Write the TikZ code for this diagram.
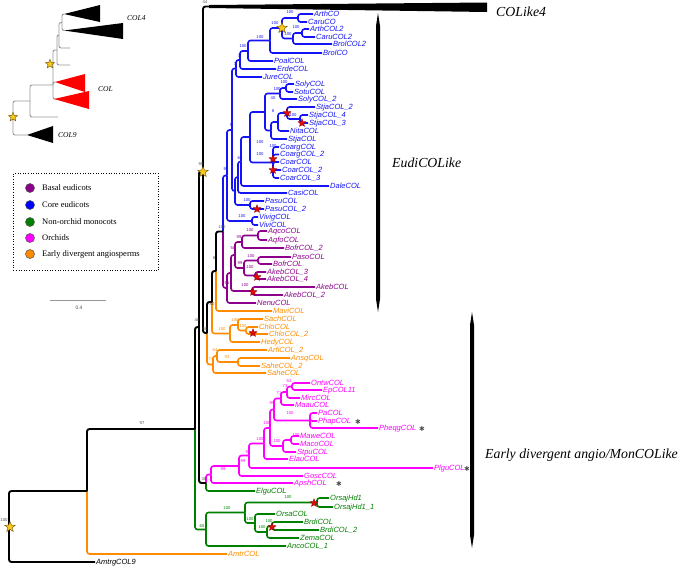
\documentclass[tikz,border=0pt]{standalone}
\usepackage{fontspec}
\setmainfont{Liberation Serif}
\newfontfamily\lsans{Liberation Sans}
\newfontfamily\dvs{DejaVu Sans}
\usetikzlibrary{shapes.geometric}
\definecolor{cB}{RGB}{20,20,245}
\definecolor{cP}{RGB}{140,0,140}
\definecolor{cO}{RGB}{255,140,0}
\definecolor{cM}{RGB}{255,0,255}
\definecolor{cG}{RGB}{0,128,0}
\definecolor{cKt}{RGB}{80,80,80}
\definecolor{gold}{RGB}{248,200,30}
\definecolor{goldd}{RGB}{110,80,0}
\definecolor{rstarc}{RGB}{230,10,10}
\definecolor{rstard}{RGB}{120,0,0}
\definecolor{insg}{RGB}{150,150,150}
\newcommand\lfn[5]{\node[lf,text=#5] (#1) at (#2,#3) {#4};}
\newcommand\ed[3][black]{\draw[br,draw=#1] (#2) |- (#3);}
\newcommand\bsl[5]{\node[bs,text=#4] (#1) at (#2,#3) {#5};}
\newcommand\gst[4]{\node[gstar,minimum size=#4] (#1) at (#2,#3) {};}
\newcommand\rst[3]{\node[rstar] (#1) at (#2,#3) {};}
\newcommand\astx[3]{\node[astk] (#1) at (#2,#3) {∗};}
\begin{document}
\begin{tikzpicture}[x=1pt,y=-1pt,
  lf/.style={anchor=west, inner sep=1pt, font=\lsans\itshape\fontsize{7.5}{8}\selectfont, text height=5.4pt, text depth=1.2pt},
  br/.style={line width=1.6pt, rounded corners=2.5pt},
  bs/.style={font=\lsans\fontsize{4.2}{4.5}\selectfont, inner sep=0pt},
  gstar/.style={star, star points=5, star point ratio=2.3, inner sep=0pt, fill=gold, draw=goldd, line width=0.4pt},
  rstar/.style={star, star points=5, star point ratio=2.3, inner sep=0pt, minimum size=8.5pt, fill=rstarc, draw=rstard, line width=0.3pt},
  astk/.style={inner sep=0pt, text=black!75, font=\dvs\bfseries\fontsize{8}{8}\selectfont},
  ins/.style={draw=insg, line width=0.9pt, rounded corners=2pt},
  big/.style={anchor=west, inner sep=0pt, font=\itshape\fontsize{13.8}{15}\selectfont},
  inl/.style={anchor=west, inner sep=0pt, font=\itshape\fontsize{7.5}{8}\selectfont},
  lgc/.style={circle, minimum size=9pt, inner sep=0pt, draw=black!70, line width=0.5pt},
  lgt/.style={anchor=west, inner sep=0pt, font=\fontsize{8.5}{10}\selectfont}
]
\useasboundingbox (0,0) rectangle (685,566);

% ---------------- leaves ----------------
\lfn{ArthCO}{313}{14}{ArthCO}{cB}
\lfn{CaruCO}{307}{22}{CaruCO}{cB}
\lfn{ArthCOLii}{309}{29}{ArthCOL2}{cB}
\lfn{CaruCOLii}{315}{37}{CaruCOL2}{cB}
\lfn{BrolCOLii}{332}{44}{BrolCOL2}{cB}
\lfn{BrolCO}{322}{53}{BrolCO}{cB}
\lfn{PoalCOL}{273}{61}{PoalCOL}{cB}
\lfn{ErdeCOL}{276}{69}{ErdeCOL}{cB}
\lfn{JureCOL}{262}{77}{JureCOL}{cB}
\lfn{SolyCOL}{294}{84}{SolyCOL}{cB}
\lfn{SotuCOL}{293}{92}{SotuCOL}{cB}
\lfn{SolyCOLb}{297}{99}{SolyCOL\_2}{cB}
\lfn{StjaCOLb}{315}{107}{StjaCOL\_2}{cB}
\lfn{StjaCOLd}{308}{115}{StjaCOL\_4}{cB}
\lfn{StjaCOLc}{308}{123}{StjaCOL\_3}{cB}
\lfn{NitaCOL}{289}{131}{NitaCOL}{cB}
\lfn{StjaCOL}{287}{139}{StjaCOL}{cB}
\lfn{CoargCOL}{279}{147}{CoargCOL}{cB}
\lfn{CoargCOLb}{279}{154.5}{CoargCOL\_2}{cB}
\lfn{CoarCOL}{279}{162}{CoarCOL}{cB}
\lfn{CoarCOLb}{281}{170}{CoarCOL\_2}{cB}
\lfn{CoarCOLc}{279}{178}{CoarCOL\_3}{cB}
\lfn{DaleCOL}{329}{186}{DaleCOL}{cB}
\lfn{CasiCOL}{287}{193}{CasiCOL}{cB}
\lfn{PasuCOL}{264}{201}{PasuCOL}{cB}
\lfn{PasuCOLb}{264}{209}{PasuCOL\_2}{cB}
\lfn{VivigCOL}{258}{217}{VivigCOL}{cB}
\lfn{ViviCOL}{258}{225}{ViviCOL}{cB}

\lfn{AqcoCOL}{267}{231}{AqcoCOL}{cP}
\lfn{AqfoCOL}{267}{240}{AqfoCOL}{cP}
\lfn{BofrCOLb}{284}{248}{BofrCOL\_2}{cP}
\lfn{PasoCOL}{291}{257}{PasoCOL}{cP}
\lfn{BofrCOL}{272}{264}{BofrCOL}{cP}
\lfn{AkebCOLc}{266}{272}{AkebCOL\_3}{cP}
\lfn{AkebCOLd}{266}{279}{AkebCOL\_4}{cP}
\lfn{AkebCOL}{315}{287}{AkebCOL}{cP}
\lfn{AkebCOLb}{283}{295}{AkebCOL\_2}{cP}
\lfn{NenuCOL}{256}{303}{NenuCOL}{cP}

\lfn{MaviCOL}{272}{311}{MaviCOL}{cO}
\lfn{SachCOL}{263}{319}{SachCOL}{cO}
\lfn{ChloCOL}{258}{327}{ChloCOL}{cO}
\lfn{ChloCOLb}{268}{334}{ChloCOL\_2}{cO}
\lfn{HedyCOL}{260}{342}{HedyCOL}{cO}
\lfn{ArfiCOLb}{267}{350}{ArfiCOL\_2}{cO}
\lfn{AnsqCOL}{290}{358}{AnsqCOL}{cO}
\lfn{SaheCOLb}{260}{366}{SaheCOL\_2}{cO}
\lfn{SaheCOL}{266}{373}{SaheCOL}{cO}

\lfn{OntwCOL}{310}{383}{OntwCOL}{cM}
\lfn{EpCOL}{322}{390}{EpCOL11}{cM}
\lfn{MircCOL}{300}{398}{MircCOL}{cM}
\lfn{MaauCOL}{294}{405}{MaauCOL}{cM}
\lfn{PaCOL}{317}{413}{PaCOL}{cM}
\lfn{PhapCOL}{317}{421}{PhapCOL}{cM}
\lfn{PheqgCOL}{378}{428}{PheqgCOL}{cM}
\lfn{MaweCOL}{299}{436}{MaweCOL}{cM}
\lfn{MacoCOL}{299}{444}{MacoCOL}{cM}
\lfn{StpuCOL}{296}{452}{StpuCOL}{cM}
\lfn{ElauCOL}{288}{459}{ElauCOL}{cM}
\lfn{PlguCOL}{433}{468}{PlguCOL}{cM}
\lfn{GoscCOL}{303}{476}{GoscCOL}{cM}
\lfn{ApshCOL}{293}{483}{ApshCOL}{cM}

\lfn{ElguCOL}{255}{491}{ElguCOL}{cG}
\lfn{OrsajHd}{329}{498}{OrsajHd1}{cG}
\lfn{OrsajHdb}{333}{507}{OrsajHd1\_1}{cG}
\lfn{OrsaCOL}{275}{514}{OrsaCOL}{cG}
\lfn{BrdiCOL}{303}{522}{BrdiCOL}{cG}
\lfn{BrdiCOLb}{319}{530}{BrdiCOL\_2}{cG}
\lfn{ZemaCOL}{299}{538}{ZemaCOL}{cG}
\lfn{AncoCOL}{286}{546}{AncoCOL\_1}{cG}
\lfn{AmtrCOL}{227}{554}{AmtrCOL}{cO}
\lfn{AmtrgCOL}{95}{562}{AmtrgCOL9}{black}

% ---------------- internal nodes ----------------
\coordinate (n1) at (298,18);
\coordinate (n2) at (302,33);
\coordinate (n3) at (293,38.5);
\coordinate (n4) at (282,28);
\coordinate (n5) at (270,40.5);
\coordinate (n6) at (248,51);
\coordinate (n7) at (240,60);
\coordinate (n8) at (236,68.5);
\coordinate (s1) at (286,88);
\coordinate (s2) at (280,93.5);
\coordinate (st1) at (300,119);
\coordinate (st2) at (287,113);
\coordinate (st3) at (278,122);
\coordinate (st4) at (271,130.5);
\coordinate (sol) at (265,112);
\coordinate (cof) at (273,162.5);
\coordinate (sc) at (250,137);
\coordinate (Athree) at (241,161.5);
\coordinate (Atwo) at (238,177);
\coordinate (pa) at (250,205);
\coordinate (Aone) at (235,191);
\coordinate (Rone) at (232,130);
\coordinate (vv) at (252,221);
\coordinate (CE) at (227,175.5);
\coordinate (aq) at (258,235.5);
\coordinate (pone) at (242,242);
\coordinate (pthree) at (258,260.5);
\coordinate (akone) at (255,275.5);
\coordinate (pfour) at (244,268);
\coordinate (pfive) at (235,255);
\coordinate (aktwo) at (252,291);
\coordinate (psix) at (231,273);
\coordinate (BE) at (227,288);
\coordinate (E) at (223,231.5);
\coordinate (Neight) at (216,271);
\coordinate (ch) at (246,330.5);
\coordinate (sctwo) at (238,325);
\coordinate (oc) at (230,333.5);
\coordinate (Neighty) at (212,302);
\coordinate (an) at (238,362);
\coordinate (oltwo) at (217,356);
\coordinate (ol) at (213,364.5);
\coordinate (Nsixty) at (207,333);
\coordinate (clf) at (210,6.5);
\coordinate (Nnineight) at (203,171);
\coordinate (ep) at (292,386.5);
\coordinate (mone) at (287,392);
\coordinate (mtwo) at (281,398.5);
\coordinate (patwo) at (310,420.5);
\coordinate (mthree) at (274,409.5);
\coordinate (mwone) at (291,440);
\coordinate (mwtwo) at (283,446);
\coordinate (mfour) at (270,428);
\coordinate (mfive) at (264,443.5);
\coordinate (msix) at (249,455.5);
\coordinate (mseven) at (239,466);
\coordinate (meight) at (211,474.5);
\coordinate (Nthreeeight) at (206,483);
\coordinate (Nforty) at (199,327);
\coordinate (oj) at (317,502.5);
\coordinate (bd) at (272,526);
\coordinate (gthree) at (267,532);
\coordinate (gtwo) at (255,523);
\coordinate (gone) at (245,512.5);
\coordinate (gzero) at (206,529.5);
\coordinate (Nnineseven) at (195,429);
\coordinate (None) at (87,491);
\coordinate (Root) at (9,527);

% ---------------- blue ----------------
\ed[cB]{n1}{ArthCO.west} \ed[cB]{n1}{CaruCO.west}
\ed[cB]{n2}{ArthCOLii.west} \ed[cB]{n2}{CaruCOLii.west}
\ed[cB]{n3}{n2} \ed[cB]{n3}{BrolCOLii.west}
\ed[cB]{n4}{n1} \ed[cB]{n4}{n3}
\ed[cB]{n5}{n4} \ed[cB]{n5}{BrolCO.west}
\ed[cB]{n6}{n5} \ed[cB]{n6}{PoalCOL.west}
\ed[cB]{n7}{n6} \ed[cB]{n7}{ErdeCOL.west}
\ed[cB]{n8}{n7} \ed[cB]{n8}{JureCOL.west}
\ed[cB]{s1}{SolyCOL.west} \ed[cB]{s1}{SotuCOL.west}
\ed[cB]{s2}{s1} \ed[cB]{s2}{SolyCOLb.west}
\ed[cB]{st1}{StjaCOLd.west} \ed[cB]{st1}{StjaCOLc.west}
\ed[cB]{st2}{StjaCOLb.west} \ed[cB]{st2}{st1}
\ed[cB]{st3}{st2} \ed[cB]{st3}{NitaCOL.west}
\ed[cB]{st4}{st3} \ed[cB]{st4}{StjaCOL.west}
\ed[cB]{sol}{s2} \ed[cB]{sol}{st4}
\ed[cB]{cof}{CoargCOL.west} \ed[cB]{cof}{CoargCOLb.west} \ed[cB]{cof}{CoarCOL.west}
\ed[cB]{cof}{CoarCOLb.west} \ed[cB]{cof}{CoarCOLc.west}
\ed[cB]{sc}{sol} \ed[cB]{sc}{cof}
\ed[cB]{Athree}{sc} \ed[cB]{Athree}{DaleCOL.west}
\ed[cB]{Atwo}{Athree} \ed[cB]{Atwo}{CasiCOL.west}
\ed[cB]{pa}{PasuCOL.west} \ed[cB]{pa}{PasuCOLb.west}
\ed[cB]{Aone}{Atwo} \ed[cB]{Aone}{pa}
\ed[cB]{Rone}{n8} \ed[cB]{Rone}{Aone}
\ed[cB]{vv}{VivigCOL.west} \ed[cB]{vv}{ViviCOL.west}
\ed[cB]{CE}{Rone} \ed[cB]{CE}{vv}
\ed[cB]{E}{CE}
% ---------------- purple ----------------
\ed[cP]{E}{BE}
\ed[cP]{aq}{AqcoCOL.west} \ed[cP]{aq}{AqfoCOL.west}
\ed[cP]{pone}{aq} \ed[cP]{pone}{BofrCOLb.west}
\ed[cP]{pthree}{PasoCOL.west} \ed[cP]{pthree}{BofrCOL.west}
\ed[cP]{akone}{AkebCOLc.west} \ed[cP]{akone}{AkebCOLd.west}
\ed[cP]{pfour}{pthree} \ed[cP]{pfour}{akone}
\ed[cP]{pfive}{pone} \ed[cP]{pfive}{pfour}
\ed[cP]{aktwo}{AkebCOL.west} \ed[cP]{aktwo}{AkebCOLb.west}
\ed[cP]{psix}{pfive} \ed[cP]{psix}{aktwo}
\ed[cP]{BE}{psix} \ed[cP]{BE}{NenuCOL.west}
% ---------------- orange ----------------
\ed[cO]{Neight}{MaviCOL.west}
\ed[cO]{ch}{ChloCOL.west} \ed[cO]{ch}{ChloCOLb.west}
\ed[cO]{sctwo}{SachCOL.west} \ed[cO]{sctwo}{ch}
\ed[cO]{oc}{sctwo} \ed[cO]{oc}{HedyCOL.west}
\ed[cO]{Neighty}{oc}
\ed[cO]{an}{AnsqCOL.west} \ed[cO]{an}{SaheCOLb.west}
\ed[cO]{oltwo}{ArfiCOLb.west} \ed[cO]{oltwo}{an}
\ed[cO]{ol}{oltwo} \ed[cO]{ol}{SaheCOL.west}
\ed[cO]{Nsixty}{ol}
\ed[cO]{None}{AmtrCOL.west}
% ---------------- magenta ----------------
\ed[cM]{ep}{OntwCOL.west} \ed[cM]{ep}{EpCOL.west}
\ed[cM]{mone}{ep} \ed[cM]{mone}{MircCOL.west}
\ed[cM]{mtwo}{mone} \ed[cM]{mtwo}{MaauCOL.west}
\ed[cM]{patwo}{PaCOL.west} \ed[cM]{patwo}{PhapCOL.west} \ed[cM]{patwo}{PheqgCOL.west}
\ed[cM]{mthree}{mtwo} \ed[cM]{mthree}{patwo}
\ed[cM]{mwone}{MaweCOL.west} \ed[cM]{mwone}{MacoCOL.west}
\ed[cM]{mwtwo}{mwone} \ed[cM]{mwtwo}{StpuCOL.west}
\ed[cM]{mfour}{mthree} \ed[cM]{mfour}{mwtwo}
\ed[cM]{mfive}{mfour} \ed[cM]{mfive}{ElauCOL.west}
\ed[cM]{msix}{mfive} \ed[cM]{msix}{PlguCOL.west}
\ed[cM]{mseven}{msix} \ed[cM]{mseven}{GoscCOL.west}
\ed[cM]{meight}{mseven} \ed[cM]{meight}{ApshCOL.west}
\ed[cM]{Nthreeeight}{meight}
% ---------------- green ----------------
\ed[cG]{Nthreeeight}{ElguCOL.west}
\ed[cG]{oj}{OrsajHd.west} \ed[cG]{oj}{OrsajHdb.west}
\ed[cG]{bd}{BrdiCOL.west} \ed[cG]{bd}{BrdiCOLb.west}
\ed[cG]{gthree}{bd} \ed[cG]{gthree}{ZemaCOL.west}
\ed[cG]{gtwo}{OrsaCOL.west} \ed[cG]{gtwo}{gthree}
\ed[cG]{gone}{oj} \ed[cG]{gone}{gtwo}
\ed[cG]{gzero}{gone} \ed[cG]{gzero}{AncoCOL.west}
\ed[cG]{Nnineseven}{gzero}
% ---------------- black backbone ----------------
\begin{scope}[br/.append style={line width=1.9pt}]
\ed{Neight}{E}
\ed{Neighty}{Neight}
\ed{Nsixty}{Neighty}
\ed{Nnineight}{clf} \ed{Nnineight}{Nsixty}
\ed{Nforty}{Nnineight} \ed{Nforty}{Nthreeeight}
\ed{Nnineseven}{Nforty}
\ed{None}{Nnineseven}
\ed{Root}{None} \ed{Root}{AmtrgCOL.west}
\end{scope}
% COLike4 collapsed clade
\fill (209,5) -- (487,2.5) -- (487,12) -- (209,8) -- cycle;
% clade bars
\fill (378,13) -- (380,26) -- (380,299) -- (378,312) -- (376,299) -- (376,26) -- cycle;
\fill (472,312) -- (474,325) -- (474,535) -- (472,548) -- (470,535) -- (470,325) -- cycle;
\node[big] (tCOLfour) at (496,12) {COLike4};
\node[big] (tEudi) at (392,163) {EudiCOLike};
\node[big] (tEarly) at (485,455) {Early divergent angio/MonCOLike};

% ---------------- support values ----------------
\bsl{b1}{205}{1.8}{cKt}{44}
\bsl{b2}{201}{164}{cKt}{98}
\bsl{b3}{290}{12}{cB}{100}
\bsl{b4}{296}{27}{cB}{100}
\bsl{b5}{288}{34.5}{cB}{100}
\bsl{b6}{275}{23}{cB}{100}
\bsl{b7}{260}{37}{cB}{100}
\bsl{b8}{243}{46}{cB}{100}
\bsl{b9}{239}{56}{cB}{7}
\bsl{b10}{235}{64}{cB}{7}
\bsl{b11}{284}{82}{cB}{100}
\bsl{b12}{277}{89}{cB}{100}
\bsl{b13}{273}{98}{cB}{40}
\bsl{b14}{273}{111}{cB}{8}
\bsl{b15}{293}{115}{cB}{100}
\bsl{b16}{231}{125}{cB}{9}
\bsl{b17}{260}{142}{cB}{100}
\bsl{b18}{273}{146}{cB}{100}
\bsl{b19}{260}{154}{cB}{100}
\bsl{b20}{240}{158}{cB}{69}
\bsl{b21}{238}{172}{cB}{5}
\bsl{b22}{226}{169}{cB}{96}
\bsl{b23}{247}{200}{cB}{100}
\bsl{b24}{242}{216}{cB}{100}
\bsl{b25}{222}{227}{cKt}{100}
\bsl{b26}{250}{230}{cP}{100}
\bsl{b27}{239}{237}{cP}{99}
\bsl{b28}{233}{248}{cP}{50}
\bsl{b29}{251}{256}{cP}{100}
\bsl{b30}{240}{263}{cP}{99}
\bsl{b31}{250}{267}{cP}{100}
\bsl{b32}{227}{283}{cP}{95}
\bsl{b33}{245}{285}{cP}{100}
\bsl{b34}{214}{258}{cKt}{8}
\bsl{b35}{212}{304}{cKt}{80}
\bsl{b36}{197}{320}{cKt}{40}
\bsl{b37}{205}{329}{cKt}{60}
\bsl{b38}{235}{320}{cO}{100}
\bsl{b39}{243}{326}{cO}{100}
\bsl{b40}{222}{329}{cO}{100}
\bsl{b41}{215}{350}{cO}{64}
\bsl{b42}{227}{357}{cO}{93}
\bsl{b43}{211}{359}{cO}{74}
\bsl{b44}{289}{381}{cM}{53}
\bsl{b45}{285}{386}{cM}{73}
\bsl{b46}{279}{393}{cM}{71}
\bsl{b47}{272}{403}{cM}{99}
\bsl{b48}{290}{413}{cM}{100}
\bsl{b49}{267}{423}{cM}{100}
\bsl{b50}{296}{435}{cM}{100}
\bsl{b51}{277}{441}{cM}{100}
\bsl{b52}{260}{439}{cM}{100}
\bsl{b53}{248}{452}{cM}{96}
\bsl{b54}{243}{461}{cM}{99}
\bsl{b55}{223}{469}{cM}{99}
\bsl{b56}{204}{479}{cKt}{38}
\bsl{b57}{288}{497}{cG}{100}
\bsl{b58}{227}{508}{cG}{100}
\bsl{b59}{250}{519}{cG}{100}
\bsl{b60}{269}{521}{cG}{100}
\bsl{b61}{262}{527}{cG}{100}
\bsl{b62}{202}{526}{cG}{65}
\bsl{b63}{142}{423}{cKt}{97}
\bsl{b64}{4}{520}{cKt}{100}

% ---------------- stars ----------------
\gst{sgone}{282}{28}{11pt}
\gst{sgtwo}{203}{172}{11pt}
\gst{sgthree}{10}{527}{11pt}
\rst{srone}{287}{113}
\rst{srtwo}{302}{123}
\rst{srthree}{273}{159}
\rst{srfour}{273}{170}
\rst{srfive}{257}{209}
\rst{srsix}{257}{277}
\rst{srseven}{253}{292}
\rst{sreight}{253}{333}
\rst{srnine}{314}{503}
\rst{srten}{272}{527}
% asterisks
\astx{aone}{358}{421.5}
\astx{atwo}{422}{428.5}
\astx{athree}{467}{468.5}
\astx{afour}{339}{484}

% ---------------- inset ----------------
\coordinate (iR) at (13,118);
\coordinate (iOne) at (30,101);
\coordinate (iTwo) at (53,85);
\coordinate (iThree) at (57,50);
\coordinate (iFour) at (59,35);
\coordinate (iFive) at (62,22.5);
\coordinate (tA) at (64,14);
\coordinate (tB) at (64,30.5);
\coordinate (tRone) at (55,82);
\coordinate (tRtwo) at (54,99);
\coordinate (tCnine) at (27,135);
\coordinate (sOne) at (58,117);
\coordinate (sThree) at (70,65);
\coordinate (sFour) at (70,48);
\draw[ins] (iR) |- (iOne); \draw[ins] (iR) |- (tCnine);
\draw[ins] (iOne) |- (iTwo); \draw[ins] (iOne) |- (sOne);
\draw[ins] (iTwo) |- (iThree); \draw[ins] (iTwo) |- (tRone); \draw[ins] (iTwo) |- (tRtwo);
\draw[ins] (iThree) |- (iFour); \draw[ins] (iThree) |- (sThree);
\draw[ins] (iFour) |- (iFive); \draw[ins] (iFour) |- (sFour);
\draw[ins] (iFive) |- (tA); \draw[ins] (iFive) |- (tB);
\fill (tA) -- (100,5) -- (100,22) -- cycle;
\fill (tB) -- (123,23) -- (123,39) -- cycle;
\fill[red] (tRone) -- (85,74) -- (85,92) -- cycle;
\fill[red] (tRtwo) -- (89,91) -- (89,109) -- cycle;
\fill (tCnine) -- (53,126) -- (53,143) -- cycle;
\gst{sgfour}{50}{64}{9.5pt}
\gst{sgfive}{13}{117}{9.5pt}
\node[inl] (lCOLfour) at (127,18) {COL4};
\node[inl] (lCOL) at (98,89) {COL};
\node[inl] (lCOLnine) at (58,135) {COL9};

% ---------------- legend ----------------
\node[draw, dotted, line width=0.6pt, anchor=north west, minimum width=145pt, minimum height=97pt, inner sep=0pt] (lgbox) at (13,173) {};
\node[lgc, fill=cP] (lcone) at (30,188) {};
\node[lgc, fill=blue] (lctwo) at (30,205) {};
\node[lgc, fill=cG] (lcthree) at (30,222) {};
\node[lgc, fill=cM] (lcfour) at (30,238) {};
\node[lgc, fill=cO] (lcfive) at (30,254) {};
\node[lgt] (ltone) at (42,188) {Basal eudicots};
\node[lgt] (lttwo) at (42,205) {Core eudicots};
\node[lgt] (ltthree) at (42,222) {Non-orchid monocots};
\node[lgt] (ltfour) at (42,238) {Orchids};
\node[lgt] (ltfive) at (42,254) {Early divergent angiosperms};
% scale bar
\coordinate (sbA) at (50,300);
\coordinate (sbB) at (106,300);
\draw[insg, line width=1pt] (sbA) -- (sbB);
\node[font=\lsans\fontsize{5}{6}\selectfont, text=black!70, inner sep=0pt] (sbt) at (79,308) {0.4};
\end{tikzpicture}
\end{document}
